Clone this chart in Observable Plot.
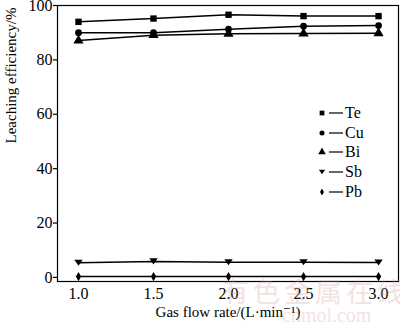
<!DOCTYPE html>
<html>
<head>
<meta charset="utf-8">
<script src="https://cdn.jsdelivr.net/npm/d3@7"></script>
<script src="https://cdn.jsdelivr.net/npm/@observablehq/plot@0.6"></script>
<style>
  html, body { margin: 0; padding: 0; background: #fff; font-family: "Liberation Serif", "DejaVu Serif", serif; }
  #wrap { position: relative; width: 400px; height: 325px; overflow: hidden; }
  #wrap svg text { font-family: "Liberation Serif", "DejaVu Serif", serif; }
  #legend { position: absolute; left: 316px; top: 103px; font-family: "Liberation Serif", "DejaVu Serif", serif; font-size: 16px; color: #000; }
  .row { display: flex; align-items: center; height: 19.7px; }
  .row svg { display: block; }
  #wm { position: absolute; left: 222px; top: 271px; font-family: "Noto Sans CJK SC", sans-serif; font-size: 27px; letter-spacing: 4px; color: #d9a0a0; opacity: 0.3; white-space: nowrap; pointer-events: none; }
  #wm2 { position: absolute; left: 282px; top: 304px; font-family: "Liberation Serif", serif; font-size: 20px; color: #d9a0a0; opacity: 0.3; white-space: nowrap; pointer-events: none; }
</style>
</head>
<body>
<div id="wrap"></div>
<script>
const flowRates = [1.0, 1.5, 2.0, 2.5, 3.0];
const elements = ["Te", "Cu", "Bi", "Sb", "Pb"];
const te = [94.0, 95.2, 96.6, 96.1, 96.1];
const cu = [90.0, 90.0, 91.3, 92.4, 92.6];
const bi = [87.1, 89.1, 89.6, 89.7, 89.8];
const sb = [5.4, 5.9, 5.6, 5.6, 5.5];
const pb = [0.3, 0.3, 0.3, 0.3, 0.3];
const xTicks = [1.0, 1.5, 2.0, 2.5, 3.0];
const yTicks = [0, 20, 40, 60, 80, 100];
const symbolSizes = [3.6, 3.4, 3.8, 3.8, 2.8];

const series = [te, cu, bi, sb, pb];
const data = [];
series.forEach((vals, i) => vals.forEach((v, j) => data.push({el: elements[i], x: flowRates[j], y: v, k: i})));

const triDown = {draw(ctx, size) { const s = Math.sqrt(size); const h = s * 0.9; ctx.moveTo(-s/1.6, -h/2); ctx.lineTo(s/1.6, -h/2); ctx.lineTo(0, h/2); ctx.closePath(); }};
const symFor = (k) => k === 0 ? d3.symbolSquare : k === 1 ? d3.symbolCircle : k === 2 ? d3.symbolTriangle : k === 3 ? triDown : d3.symbolDiamond;

const font = '"Liberation Serif", "DejaVu Serif", serif';
const chart = Plot.plot({
  width: 400,
  height: 325,
  marginLeft: 57,
  marginRight: 2,
  marginTop: 5,
  marginBottom: 44,
  style: {fontFamily: font, fontSize: "16px", color: "#000", background: "#fff", overflow: "visible"},
  x: {domain: [0.86, 3.133], label: null},
  y: {domain: [-1.5, 100], label: null},
  marks: [
    Plot.frame({stroke: "#000", strokeWidth: 1.2}),
    Plot.axisY({ticks: yTicks, tickSize: 4, tickPadding: 1, strokeWidth: 1.2, fontSize: 16, fontFamily: font, label: null}),
    Plot.axisX({ticks: xTicks, tickFormat: d3.format(".1f"), tickSize: 0, tickPadding: 6, fontSize: 16, fontFamily: font, label: null}),
    Plot.line(data, {x: "x", y: "y", z: "el", stroke: "#000", strokeWidth: 1.5}),
    ...elements.map((e, i) => Plot.dot(data.filter(d => d.k === i), {x: "x", y: "y", fill: "#000", stroke: "none", r: symbolSizes[i], symbol: symFor(i)})),
    Plot.text(["Gas flow rate/(L·min⁻¹)"], {frameAnchor: "bottom", dy: 35, fontSize: 15, fontFamily: font, text: d => d}),
    Plot.text(["Leaching efficiency/%"], {frameAnchor: "left", dx: -46, rotate: -90, fontSize: 15, fontFamily: font, text: d => d})
  ]
});
const wrap = document.getElementById("wrap");
wrap.appendChild(chart);

const legend = document.createElement("div");
legend.id = "legend";
elements.forEach((e, i) => {
  const row = document.createElement("div");
  row.className = "row";
  const svg = d3.create("svg").attr("width", 28).attr("height", 14);
  const sz = Math.PI * symbolSizes[i] * symbolSizes[i] * 0.55;
  svg.append("path").attr("transform", "translate(6,7)").attr("d", d3.symbol(symFor(i), sz)()).attr("fill", "#000");
  svg.append("line").attr("x1", 13).attr("x2", 27).attr("y1", 7).attr("y2", 7).attr("stroke", "#000").attr("stroke-width", 1.2);
  row.appendChild(svg.node());
  const t = document.createElement("span");
  t.textContent = e;
  t.style.marginLeft = "1px";
  row.appendChild(t);
  legend.appendChild(row);
});
wrap.appendChild(legend);

const wm = document.createElement("div"); wm.id = "wm"; wm.textContent = "有色金属在线"; wrap.appendChild(wm);
const wm2 = document.createElement("div"); wm2.id = "wm2"; wm2.textContent = "cnmol.com"; wrap.appendChild(wm2);
</script>
</body>
</html>
